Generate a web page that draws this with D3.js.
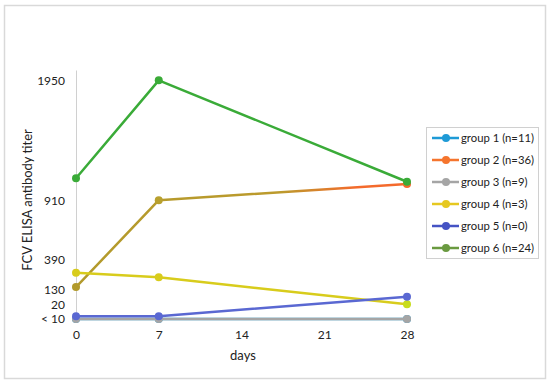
<!DOCTYPE html>
<html><head><meta charset="utf-8">
<script src="https://cdn.jsdelivr.net/npm/d3@7"></script>
<style>body{margin:0;background:#fff}svg{display:block}text{font-family:Lato,"Open Sans",sans-serif;fill:#222}</style>
</head><body>
<script>
const days = [0, 7, 28];
const xTicks = [0, 7, 14, 21, 28];
const yTickValues = [5, 20, 130, 390, 910, 1950];
const yTickLabels = ["< 10", "20", "130", "390", "910", "1950"];
const groupNames = ["group 1 (n=11)", "group 2 (n=36)", "group 3 (n=9)", "group 4 (n=3)", "group 5 (n=0)", "group 6 (n=24)"];
const group1 = [5, 5, 5];
const group2 = [155, 910, 1050];
const group3 = [5, 5, 5];
const group4 = [280, 240, 25];
const group5 = [8, 8, 80];
const group6 = [1100, 1950, 1070];
const seriesValues = [group1, group2, group3, group4, group5, group6];
const lineColors = ["#2a9fd8", "url(#g2grad)", "#a5a5a5", "#d8cc1c", "#5a68d2", "#3aab38"];
const pointColors = [["#2a9fd8","#2a9fd8","#2a9fd8"], ["#b29a2c","#b8a02e","#f46a2c"], ["#a5a5a5","#a5a5a5","#a5a5a5"], ["#d8cc1c","#d8cc1c","#c8dc1c"], ["#5a68d2","#5a68d2","#5a68d2"], ["#3aab38","#3aab38","#3aab38"]];
const legendColors = ["#1e9ad6", "#f5752e", "#a5a5a5", "#e6c820", "#4553c4", "#6a9a40"];

const W = 550, H = 384;
const svg = d3.select("body").append("svg").attr("width", W).attr("height", H);
const defs = svg.append("defs");
const gr = defs.append("linearGradient").attr("id","g2grad").attr("gradientUnits","userSpaceOnUse")
  .attr("x1",76).attr("x2",407).attr("y1",0).attr("y2",0);
gr.append("stop").attr("offset","0").attr("stop-color","#b29a2c");
gr.append("stop").attr("offset","0.62").attr("stop-color","#bc9a2c");
gr.append("stop").attr("offset","0.85").attr("stop-color","#f46a2c");
gr.append("stop").attr("offset","1").attr("stop-color","#f46a2c");

svg.append("rect").attr("x",4.5).attr("y",5.5).attr("width",541).attr("height",373)
  .attr("fill","#fff").attr("stroke","#d9d9d9").attr("stroke-width",1.5);

const x = d3.scaleLinear().domain([0, 28]).range([76, 407]);
const y = d3.scaleLinear().domain([5, 20, 130, 2040]).range([319, 305, 290, 70]);

const yAxis = svg.append("g").attr("transform","translate(76,0)")
  .call(d3.axisLeft(y).tickValues(yTickValues).tickSize(0).tickPadding(11)
    .tickFormat((d,i) => yTickLabels[i]));
yAxis.select(".domain").attr("stroke","#d0d0d0").attr("stroke-width",1);
yAxis.selectAll("text").style("font-size","12px").attr("fill","#222").style("font-family","Lato,'Open Sans',sans-serif");

const xAxis = svg.append("g").attr("transform","translate(0,327)")
  .call(d3.axisBottom(x).tickValues(xTicks).tickSize(0).tickPadding(3).tickFormat(d3.format("d")));
xAxis.select(".domain").remove();
xAxis.selectAll("text").style("font-size","12px").attr("fill","#222").style("font-family","Lato,'Open Sans',sans-serif");

svg.append("text").attr("x", 243).attr("y", 360).attr("text-anchor","middle")
  .style("font-size","13px").text("days");
svg.append("text").attr("transform","translate(32,200) rotate(-90)").attr("text-anchor","middle")
  .style("font-size","13px").text("FCV ELISA antibody titer");

const line = d3.line().x((d,i) => x(days[i])).y(d => y(d));
seriesValues.forEach((vals, s) => {
  svg.append("path").datum(vals).attr("d", line).attr("fill","none")
    .attr("stroke", lineColors[s]).attr("stroke-width", 2.5).attr("stroke-linejoin","round");
  svg.append("g").selectAll("circle").data(vals).join("circle")
    .attr("cx", (d,i) => x(days[i])).attr("cy", d => y(d)).attr("r", 4)
    .attr("fill", (d,i) => pointColors[s][i]);
});

const lg = svg.append("g");
lg.append("rect").attr("x",426.5).attr("y",127.5).attr("width",112).attr("height",131)
  .attr("fill","#fff").attr("stroke","#d0d0d0");
groupNames.forEach((name, i) => {
  const cy = 138 + i * 22;
  lg.append("line").attr("x1",432).attr("x2",459).attr("y1",cy).attr("y2",cy)
    .attr("stroke", legendColors[i]).attr("stroke-width",2.5);
  lg.append("circle").attr("cx",446).attr("cy",cy).attr("r",4).attr("fill",legendColors[i]);
  lg.append("text").attr("x",461).attr("y",cy).attr("dy","0.35em").style("font-size","11.3px").text(name);
});
</script>
</body></html>
